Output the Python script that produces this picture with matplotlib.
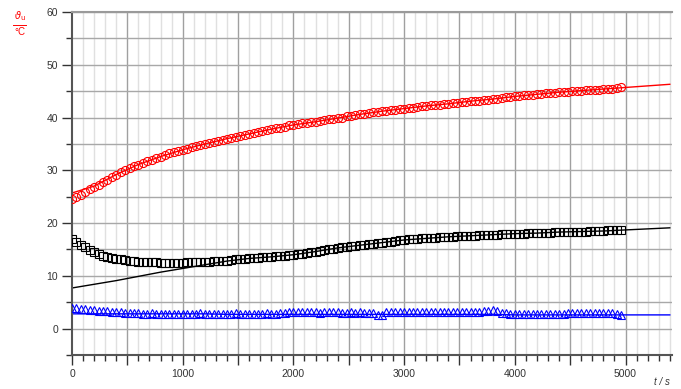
import numpy as np
import matplotlib
matplotlib.use("Agg")
import matplotlib.pyplot as plt
from matplotlib.lines import Line2D
from matplotlib.ticker import MultipleLocator, FuncFormatter

plt.rcParams["font.family"] = ["Liberation Sans", "DejaVu Sans"]

# measured samples every 40 s (0 ... 4960 s)
t_meas = np.arange(0, 5000, 40)

temp_red = [
    24.5, 24.9, 25.4, 25.9, 26.4, 26.8, 27.3, 27.8, 28.2, 28.7, 29.2, 29.6, 30.1, 30.4, 30.8, 31.1, 31.4, 31.7, 32.0, 32.3, 32.6, 32.9, 33.2, 33.4, 33.7,
    33.9, 34.1, 34.4, 34.6, 34.8, 35.0, 35.2, 35.4, 35.6, 35.8, 36.0, 36.2, 36.4, 36.5, 36.7, 36.9, 37.1, 37.3, 37.4, 37.6, 37.8, 38.0, 38.1, 38.3, 38.5,
    38.6, 38.7, 38.9, 39.0, 39.1, 39.2, 39.4, 39.5, 39.7, 39.8, 39.9, 40.0, 40.2, 40.3, 40.5, 40.6, 40.7, 40.8, 41.0, 41.1, 41.2, 41.3, 41.4, 41.5, 41.6,
    41.7, 41.8, 41.9, 42.0, 42.1, 42.2, 42.3, 42.4, 42.4, 42.5, 42.6, 42.7, 42.8, 42.9, 43.0, 43.1, 43.2, 43.2, 43.3, 43.4, 43.5, 43.6, 43.7, 43.8, 43.9,
    44.0, 44.1, 44.2, 44.2, 44.3, 44.4, 44.5, 44.6, 44.6, 44.7, 44.8, 44.9, 44.9, 45.0, 45.0, 45.1, 45.2, 45.2, 45.3, 45.3, 45.4, 45.5, 45.5, 45.6, 45.7,
]

temp_black = [
    17.0, 16.4, 15.9, 15.4, 14.9, 14.5, 14.1, 13.8, 13.6, 13.4, 13.2, 13.1, 13.0, 12.9, 12.8, 12.7, 12.7, 12.6, 12.6, 12.6, 12.5, 12.5, 12.5, 12.5, 12.5,
    12.5, 12.6, 12.6, 12.6, 12.6, 12.7, 12.7, 12.8, 12.8, 12.9, 12.9, 13.0, 13.1, 13.1, 13.2, 13.3, 13.3, 13.4, 13.5, 13.5, 13.6, 13.7, 13.8, 13.8, 13.9,
    14.0, 14.1, 14.2, 14.4, 14.5, 14.6, 14.7, 14.9, 15.0, 15.1, 15.3, 15.4, 15.5, 15.6, 15.7, 15.8, 15.9, 16.0, 16.1, 16.2, 16.3, 16.4, 16.5, 16.6, 16.7,
    16.8, 16.9, 16.9, 17.0, 17.1, 17.1, 17.2, 17.2, 17.3, 17.3, 17.4, 17.4, 17.5, 17.5, 17.6, 17.6, 17.6, 17.7, 17.7, 17.8, 17.8, 17.8, 17.9, 17.9, 17.9,
    18.0, 18.0, 18.0, 18.1, 18.1, 18.1, 18.2, 18.2, 18.2, 18.3, 18.3, 18.3, 18.3, 18.4, 18.4, 18.4, 18.4, 18.5, 18.5, 18.5, 18.5, 18.6, 18.6, 18.6, 18.6,
]

temp_blue = [
    4.0, 3.9, 3.8, 3.7, 3.6, 3.5, 3.4, 3.3, 3.3, 3.2, 3.1, 3.1, 3.0, 3.0, 2.9, 2.9, 2.8, 2.8, 2.9, 2.8, 2.7, 2.8, 2.8, 2.7, 2.8,
    2.8, 2.7, 2.8, 2.8, 2.9, 2.8, 2.7, 2.8, 2.8, 2.7, 2.8, 2.8, 2.9, 2.8, 2.8, 2.7, 2.8, 2.8, 2.8, 2.9, 2.8, 2.8, 2.9, 3.0, 3.1,
    3.1, 3.2, 3.1, 3.1, 3.2, 3.1, 3.0, 3.1, 3.1, 3.2, 3.1, 3.0, 3.0, 3.1, 3.0, 3.1, 3.0, 3.0, 2.9, 2.6, 2.5, 3.1, 3.2, 3.1, 3.2,
    3.2, 3.1, 3.2, 3.1, 3.1, 3.2, 3.1, 3.2, 3.1, 3.1, 3.2, 3.2, 3.1, 3.2, 3.1, 3.2, 3.1, 3.2, 3.3, 3.4, 3.5, 3.3, 3.0, 2.9, 2.8,
    2.8, 2.7, 2.7, 2.8, 2.7, 2.7, 2.8, 2.7, 2.7, 2.8, 2.7, 2.7, 2.9, 3.0, 3.0, 2.9, 3.0, 3.0, 2.9, 3.0, 3.0, 2.9, 2.9, 2.7, 2.5,
]

# fitted curves, every 200 s (0 ... 5400 s)
t_fit = np.arange(0, 5401, 200)
fit_red = [25.7, 27.0, 29.2, 31.1, 32.6, 33.9, 35.0, 36.0, 36.9, 37.8, 38.6, 39.2, 39.9, 40.6,
           41.2, 41.7, 42.2, 42.6, 43.1, 43.5, 44.0, 44.4, 44.8, 45.1, 45.4, 45.7, 46.0, 46.3]
fit_black = [7.7, 8.4, 9.1, 9.9, 10.7, 11.4, 12.1, 12.8, 13.3, 13.6, 14.0, 14.6, 15.3, 15.8,
             16.3, 16.8, 17.1, 17.4, 17.6, 17.8, 18.0, 18.1, 18.3, 18.4, 18.5, 18.7, 18.9, 19.1]
fit_blue = [2.8, 2.8, 2.8, 2.8, 2.8, 2.8, 2.8, 2.7, 2.7, 2.7, 2.7, 2.7, 2.7, 2.7,
            2.7, 2.7, 2.7, 2.7, 2.7, 2.7, 2.6, 2.6, 2.6, 2.6, 2.6, 2.6, 2.6, 2.6]

W, H = 681, 389
fig = plt.figure(figsize=(W / 100, H / 100), dpi=100)
ax = fig.add_axes([72 / W, (H - 355) / H, (672 - 72) / W, (355 - 12) / H])

# grid: light every 100 s, darker every 500 s, horizontal every 5 degC
for x in range(100, 5401, 100):
    major = x % 500 == 0
    ax.axvline(x, color="#a0a0a0" if major else "#e0e0e0", lw=1.0, zorder=0)
for y in range(-5, 61, 5):
    ax.axhline(y, color="#a8a8a8", lw=1.0, zorder=0)

ax.plot(t_fit, fit_red, color="red", lw=1.0, zorder=2)
ax.plot(t_fit, fit_black, color="black", lw=1.0, zorder=2)
ax.plot(t_fit, fit_blue, color="blue", lw=1.0, zorder=2)

mk = dict(ls="none", mfc="none", markersize=5.8, mew=0.8, zorder=3)
ax.plot(t_meas, temp_red, marker="o", mec="red", **mk)
ax.plot(t_meas, temp_black, marker="s", mec="black", **mk)
ax.plot(t_meas, temp_blue, marker="^", mec="blue", **mk)

ax.set_xlim(0, 5420)
ax.set_ylim(-5, 60)

ax.xaxis.set_major_locator(MultipleLocator(500))
ax.xaxis.set_minor_locator(MultipleLocator(100))
ax.xaxis.set_major_formatter(FuncFormatter(lambda v, p: f"{v:.0f}" if v % 1000 == 0 else ""))
ax.yaxis.set_major_locator(MultipleLocator(10))
ax.yaxis.set_minor_locator(MultipleLocator(5))

ax.tick_params(axis="both", which="major", direction="out", length=7, width=1,
               color="#333333", labelsize=7.5, labelcolor="#333333", pad=3)
ax.tick_params(axis="both", which="minor", direction="out", length=4.5, width=1,
               color="#333333")

ax.spines["right"].set_visible(False)
ax.spines["top"].set_color("#9a9a9a")
ax.spines["top"].set_linewidth(1.5)
for side in ("left", "bottom"):
    ax.spines[side].set_color("#555555")
    ax.spines[side].set_linewidth(1.5)

# axis quantities
fig.text(20 / W, 1 - 16 / H, r"$\vartheta_{\mathrm{u}}$", color="red", fontsize=7,
         ha="center", va="center")
fig.add_artist(Line2D([13 / W, 26 / W], [1 - 25 / H, 1 - 25 / H], color="red", lw=0.7))
fig.text(20 / W, 1 - 32 / H, "°C", color="red", fontsize=7, ha="center", va="center")
fig.text(662 / W, 1 - 382 / H, "t / s", fontsize=7, style="italic", color="#333333",
         ha="center", va="center")

fig.savefig("out.png", dpi=100)
